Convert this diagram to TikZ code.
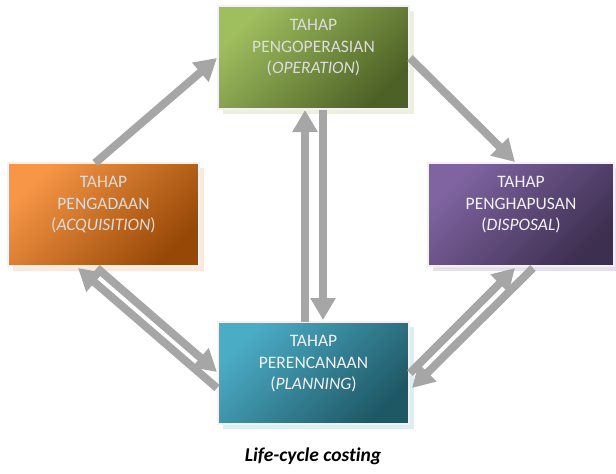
\documentclass[tikz,border=0pt]{standalone}
\usepackage{fontspec}
\setmainfont[Ligatures=NoCommon]{Carlito}
\usetikzlibrary{arrows.meta}
\definecolor{gA}{HTML}{9FBE5E}
\definecolor{gB}{HTML}{4D6126}
\definecolor{gS}{HTML}{EBF1DE}
\definecolor{oA}{HTML}{F79646}
\definecolor{oB}{HTML}{974806}
\definecolor{oS}{HTML}{FDE9D9}
\definecolor{pA}{HTML}{8064A2}
\definecolor{pB}{HTML}{3D2F50}
\definecolor{pS}{HTML}{E5E0EC}
\definecolor{bA}{HTML}{4BACC6}
\definecolor{bB}{HTML}{1F5865}
\definecolor{bS}{HTML}{DAEEF3}
\definecolor{edge}{HTML}{F2F2F2}
\definecolor{arrowgray}{HTML}{A6A6A6}
\definecolor{txtA}{HTML}{DCDCDC}
\definecolor{txtB}{HTML}{F2F2F2}
\begin{document}
\begin{tikzpicture}[x=1pt,y=-1pt,
  shadowbox/.style={rectangle, inner sep=0pt, outer sep=0pt, draw=none},
  stagebox/.style={rectangle, inner sep=0pt, outer sep=0pt, draw=edge, line width=2pt},
  stagetext/.style={align=center, inner sep=0pt, anchor=north, font=\fontsize{17.5}{21.5}\selectfont},
  flow/.style={draw=arrowgray, line width=8pt, -{Triangle[length=22pt,width=24pt]}}]
\useasboundingbox (0,0) rectangle (616,474);
% shadows
\node[shadowbox, fill=gS, minimum width=191pt, minimum height=103pt] (opsh) at (318.5,62.5) {};
\node[shadowbox, fill=oS, minimum width=191pt, minimum height=103pt] (acqsh) at (108.5,219.5) {};
\node[shadowbox, fill=pS, minimum width=186pt, minimum height=103pt] (dissh) at (526,219.5) {};
\node[shadowbox, fill=bS, minimum width=191pt, minimum height=102pt] (plsh) at (318.5,378) {};
% boxes
\path (313.5,57.5) coordinate (opc) (103.5,214.5) coordinate (acqc) (521,214.5) coordinate (disc) (313.5,373) coordinate (plc);
\node[stagebox, minimum width=191pt, minimum height=103pt, top color=gA, bottom color=gB, shading angle=45] (op) at (opc) {};
\node[stagebox, minimum width=191pt, minimum height=103pt, top color=oA, bottom color=oB, shading angle=45] (acq) at (acqc) {};
\node[stagebox, minimum width=186pt, minimum height=103pt, top color=pA, bottom color=pB, shading angle=45] (dis) at (disc) {};
\node[stagebox, minimum width=191pt, minimum height=102pt, top color=bA, bottom color=bB, shading angle=45] (pl) at (plc) {};
% arrows
\draw[flow] ([shift={(-8.5,0)}]acq.north) -- ([shift={(-1,0.5)}]op.west);
\draw[flow] ([shift={(1,0.5)}]op.east) -- ([shift={(-6,-1)}]dis.north);
\draw[flow] ([shift={(-8.5,0)}]pl.north) -- ([shift={(-8.5,1)}]op.south);
\draw[flow] ([shift={(9.5,1)}]op.south) -- ([shift={(9.5,-2)}]pl.north);
\draw[flow] ([shift={(-1,15)}]pl.west) -- ([shift={(70,2)}]acq.south west);
\draw[flow] ([shift={(89,2)}]acq.south west) -- ([shift={(-1,-1)}]pl.west);
\draw[flow] ([shift={(1,0)}]pl.east) -- ([shift={(87,2)}]dis.south west);
\draw[flow] ([shift={(105,2)}]dis.south west) -- ([shift={(3,15)}]pl.east);
% texts
\node[stagetext, text=txtA] (optext) at ([shift={(0,13.5)}]op.north) {TAHAP\\PENGOPERASIAN\\(\textit{OPERATION})};
\node[stagetext, text=txtA] (acqtext) at ([shift={(0,13.5)}]acq.north) {TAHAP\\PENGADAAN\\(\textit{ACQUISITION})};
\node[stagetext, text=txtB] (distext) at ([shift={(0,13.5)}]dis.north) {TAHAP\\PENGHAPUSAN\\(\textit{DISPOSAL})};
\node[stagetext, text=txtB] (pltext) at ([shift={(0,13.5)}]pl.north) {TAHAP\\PERENCANAAN\\(\textit{PLANNING})};
\node[anchor=base, inner sep=0pt, font=\bfseries\itshape\fontsize{19.5}{23}\selectfont] (caption) at (313,461) {Life-cycle costing};
\end{tikzpicture}
\end{document}
